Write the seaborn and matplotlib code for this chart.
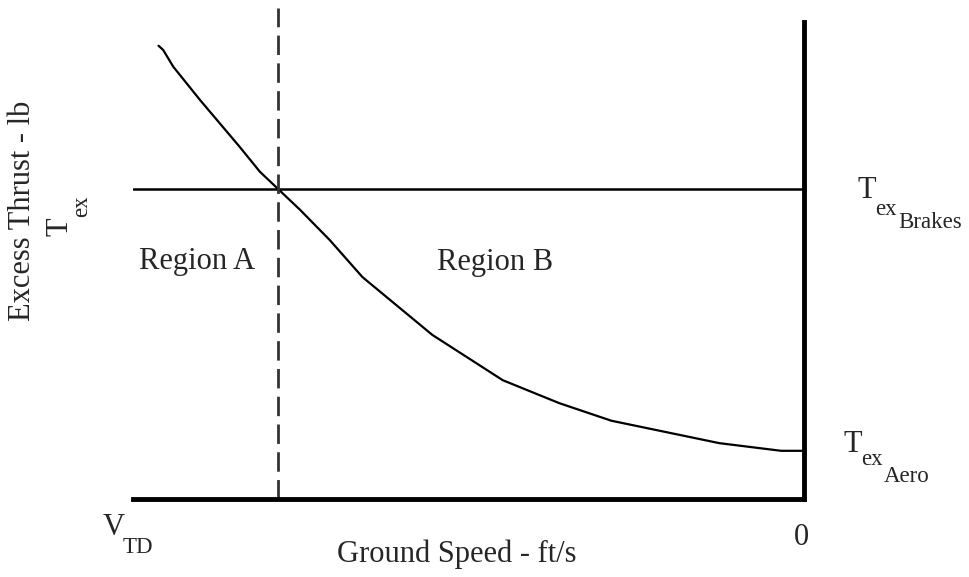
import matplotlib
matplotlib.use('Agg')
import matplotlib.pyplot as plt
import seaborn as sns
import pandas as pd

# Curve: ground speed as a fraction of V_TD (1 = touchdown, 0 = stopped)
# and excess thrust as a fraction of the axis height
speed = [0.962, 0.955, 0.940, 0.900, 0.841, 0.811, 0.784, 0.751, 0.707, 0.658,
         0.554, 0.449, 0.365, 0.287, 0.126, 0.034, 0.0]
thrust = [0.950, 0.941, 0.906, 0.836, 0.738, 0.686, 0.650, 0.606, 0.543, 0.465,
          0.344, 0.249, 0.201, 0.164, 0.117, 0.101, 0.101]
brake_level = 0.650      # T_ex Brakes
boundary_speed = 0.784   # Region A / Region B split

sns.set_style('white')
plt.rcParams['font.family'] = ['Liberation Serif', 'DejaVu Serif']

W, H = 969, 577
fs = 22
fs_sub = 16.5

fig = plt.figure(figsize=(W / 100, H / 100), dpi=100)
ax = fig.add_axes([133 / W, (H - 499) / H, 671 / W, 491 / H])

df = pd.DataFrame({'speed': speed, 'thrust': thrust})
sns.lineplot(data=df, x='speed', y='thrust', color='black', linewidth=1.6, ax=ax)
ax.axhline(brake_level, color='black', lw=1.8)
ax.axvline(boundary_speed, color='#333333', lw=2, dashes=(7, 3))

ax.set_xlim(1.0, 0.0)
ax.set_ylim(0, 1.029)
ax.set_xticks([])
ax.set_yticks([])
ax.set_xlabel('')
ax.set_ylabel('')
for s in ['left', 'top']:
    ax.spines[s].set_visible(False)
for s in ['bottom', 'right']:
    ax.spines[s].set_linewidth(3.5)
    ax.spines[s].set_color('black')
ax.spines['right'].set_bounds(0, 1.0)


def put(x, y, s, size=fs, **kw):
    # place text by pixel position in the figure
    fig.text(x / W, 1 - y / H, s, fontsize=size, **kw)


# region labels
put(197, 269, 'Region A', ha='center', va='baseline')
put(495, 270, 'Region B', ha='center', va='baseline')

# right side labels
put(857, 198, 'T', va='baseline')
put(875, 215, 'ex', size=fs_sub, va='baseline')
put(898, 228, 'Brakes', size=fs_sub, va='baseline')
put(843, 452, 'T', va='baseline')
put(861, 465, 'ex', size=fs_sub, va='baseline')
put(884, 482, 'Aero', size=fs_sub, va='baseline')

# x axis labels
put(103, 535, 'V', va='baseline')
put(123, 553, 'TD', size=fs_sub, va='baseline')
put(801, 545, '0', ha='center', va='baseline')
put(457, 562, 'Ground Speed - ft/s', ha='center', va='baseline')

# y axis label
put(23, 211, 'Excess Thrust - lb', rotation=90, ha='center', va='center')
put(67, 236, 'T', rotation=90, rotation_mode='anchor', ha='left', va='baseline')
put(87, 217, 'ex', size=fs_sub, rotation=90, rotation_mode='anchor', ha='left', va='baseline')

fig.savefig('out.png', dpi=100)
